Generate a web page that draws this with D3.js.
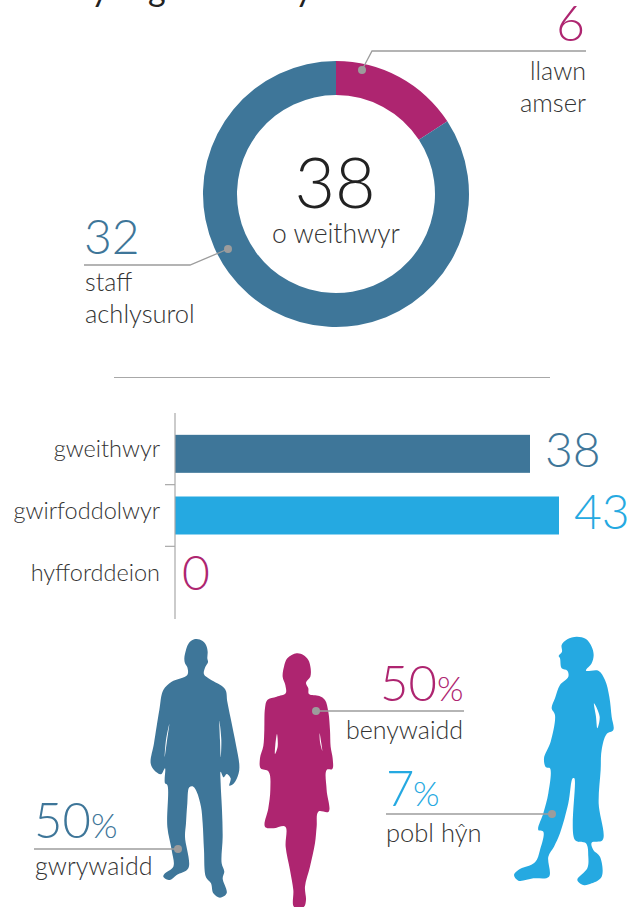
<!DOCTYPE html>
<html>
<head>
<meta charset="utf-8">
<script src="https://cdn.jsdelivr.net/npm/d3@7"></script>
<style>
html, body { margin: 0; padding: 0; background: #fff; }
svg { display: block; }
text { font-family: Lato, "Open Sans", sans-serif; font-weight: 300; }
</style>
</head>
<body>
<svg id="chart" width="629" height="907"></svg>
<script>
// staff split (donut)
var staffLabels = ["llawn amser", "staff achlysurol"];
var staffValues = [6, 32];
var staffTotal = 38;

// bar chart
var barCategories = ["gweithwyr", "gwirfoddolwyr", "hyfforddeion"];
var barValues = [38, 43, 0];

// people percentages
var peopleLabels = ["gwrywaidd", "benywaidd", "pobl hŷn"];
var peopleValues = [50, 50, 7];

var blue = "#3e7699", pink = "#ae2570", sky = "#25a9e1";
var grey = "#9c9c9c", dark = "#333333";

var svg = d3.select("#chart");

function label(x, y, str, size, color, anchor){
    return svg.append("text")
	.attr("x", x).attr("y", y)
	.attr("font-size", size)
	.attr("fill", color)
	.attr("text-anchor", anchor || "start")
	.text(str);
}

function leader(points, r){
    svg.append("path")
	.attr("d", d3.line()(points))
	.attr("fill", "none")
	.attr("stroke", grey)
	.attr("stroke-width", 1.3);
    var end = points[points.length - 1];
    svg.append("circle")
	.attr("cx", end[0]).attr("cy", end[1])
	.attr("r", r || 4)
	.attr("fill", grey);
}

// tails of the cut off heading
[["y", 91], ["g", 148], ["y", 295]].forEach(function(d){
    label(d[1], 1, d[0], 34, "#222222").style("font-weight", 400);
});

// donut
var pie = d3.pie().sort(null).value(function(d){ return d; });
var arc = d3.arc().innerRadius(99).outerRadius(133);
var donut = svg.append("g").attr("transform", "translate(336,194)");

donut.selectAll("path")
    .data(pie(staffValues))
    .enter().append("path")
    .attr("d", arc)
    .attr("fill", function(d, i){ return i == 0 ? pink : blue; });

label(335, 208, staffTotal, 70, "#222222", "middle");
label(336, 243, "o weithwyr", 26.5, dark, "middle");

label(585, 41, staffValues[0], 50, pink, "end");
label(586, 80, "llawn", 25, dark, "end");
label(586, 112, "amser", 25.5, dark, "end");
leader([[586, 51], [372, 51], [362, 70]]);

label(84, 254, staffValues[1], 48, blue);
label(85, 291, "staff", 25, dark);
label(85, 323, "achlysurol", 25.5, dark);
leader([[84, 265], [190, 265], [228, 249]]);

// divider
svg.append("line")
    .attr("x1", 114).attr("x2", 550)
    .attr("y1", 377.5).attr("y2", 377.5)
    .attr("stroke", "#a8a8a8").attr("stroke-width", 1.2);

// bars - the bars in the picture are not to one ratio, so the scale has a knee at 38
var barX = d3.scaleLinear().domain([0, 38, 43]).range([175, 530, 559]);
var barY = d3.scaleBand().domain(barCategories).range([423, 608]);
var barColors = [blue, sky, pink];

var yAxis = d3.axisLeft(barY).tickSize(0).tickPadding(15);
var axisG = svg.append("g").attr("transform", "translate(175,0)").call(yAxis);
axisG.select(".domain").remove();
axisG.selectAll("text")
    .attr("font-size", 23.5)
    .attr("dy", "0.15em")
    .attr("fill", dark)
    .style("font-family", "Lato, sans-serif");

svg.selectAll("rect.bar")
    .data(barValues)
    .enter().append("rect")
    .attr("class", "bar")
    .attr("x", barX(0))
    .attr("y", function(d, i){ return barY(barCategories[i]) + barY.step() / 2 - 19; })
    .attr("width", function(d){ return barX(d) - barX(0); })
    .attr("height", 38)
    .attr("fill", function(d, i){ return barColors[i]; });

svg.selectAll("text.barval")
    .data(barValues)
    .enter().append("text")
    .attr("class", "barval")
    .attr("x", function(d){ return barX(d) + (d == 0 ? 7 : 15); })
    .attr("y", function(d, i){ return barY(barCategories[i]) + barY.step() / 2 + 13; })
    .attr("font-size", 48)
    .attr("fill", function(d, i){ return barColors[i]; })
    .text(function(d){ return d; });

svg.append("line")
    .attr("x1", 175).attr("x2", 175)
    .attr("y1", 413).attr("y2", 619)
    .attr("stroke", "#a8a8a8").attr("stroke-width", 1.2);

svg.selectAll("line.sep")
    .data(barCategories.slice(1))
    .enter().append("line")
    .attr("class", "sep")
    .attr("x1", 165).attr("x2", 175)
    .attr("y1", function(d){ return barY(d); })
    .attr("y2", function(d){ return barY(d); })
    .attr("stroke", "#a8a8a8").attr("stroke-width", 1.2);

// silhouettes
var manOutline = [[200,27],[218,33],[229,47],[233,65],[232,85],[234,97],[225,113],[222,133],[240,148],[285,177],[292,215],[302,265],[318,345],[328,405],[326,430],[312,460],[298,467],[302,445],[290,432],[281,442],[272,425],[272,460],[276,540],[278,620],[275,700],[283,725],[278,745],[290,790],[270,803],[250,790],[243,760],[228,742],[222,660],[218,580],[213,530],[200,485],[190,470],[178,472],[172,520],[168,580],[165,620],[175,715],[140,735],[120,750],[100,740],[105,730],[130,710],[125,660],[112,590],[112,465],[105,460],[105,415],[93,433],[72,420],[62,400],[72,340],[88,240],[100,180],[125,155],[172,135],[172,112],[165,100],[163,85],[168,60],[175,42],[186,31]];
var manHoles = [[[118,282],[108,330],[104,382],[110,340]], [[268,272],[270,330],[272,382],[274,330]]];

var womanOutline = [[500,70],[520,75],[535,90],[542,115],[541,140],[528,158],[535,175],[537,192],[568,198],[585,210],[595,245],[600,300],[602,350],[608,385],[607,417],[590,420],[590,480],[596,545],[565,545],[560,590],[555,640],[540,710],[525,770],[528,810],[522,830],[492,830],[490,780],[480,720],[467,650],[466,590],[430,595],[405,590],[415,535],[421,480],[416,425],[392,415],[390,385],[400,348],[403,300],[405,235],[412,210],[440,200],[467,190],[466,165],[458,140],[462,110],[472,85]];
var womanHoles = [[[441,312],[436,345],[435,372],[443,350]], [[569,310],[574,340],[577,362],[570,335]]];

var olderOutline = [[290,20],[318,27],[335,50],[341,75],[335,100],[318,122],[355,122],[375,150],[388,200],[395,260],[400,300],[380,312],[365,360],[362,420],[356,520],[368,630],[335,638],[340,660],[360,680],[365,740],[335,760],[310,765],[292,750],[322,715],[325,680],[318,640],[285,630],[283,445],[278,445],[265,520],[240,610],[222,650],[205,680],[207,740],[160,745],[115,752],[102,735],[115,720],[165,697],[180,660],[190,605],[175,600],[190,550],[205,490],[210,415],[198,412],[192,385],[212,335],[225,255],[215,235],[225,205],[240,165],[265,140],[262,122],[245,115],[240,85],[236,78],[246,65],[245,45],[262,28]];
var olderHoles = [[[342,220],[348,260],[352,295],[359,260]]];

var figureLine = d3.line().curve(d3.curveCatmullRomClosed.alpha(0.5));

var figures = [
    {outline: manOutline, holes: manHoles, c: blue, x: 130, y: 630},
    {outline: womanOutline, holes: womanHoles, c: pink, x: 130, y: 630},
    {outline: olderOutline, holes: olderHoles, c: sky, x: 480, y: 630}
];
figures.forEach(function(f){
    svg.append("path")
	.attr("d", figureLine(f.outline) + f.holes.map(figureLine).join(""))
	.attr("fill", f.c)
	.attr("fill-rule", "evenodd")
	.attr("transform", "translate(" + f.x + "," + f.y + ") scale(0.3333)");
});

// people labels
label(34, 838, peopleValues[0], 49, blue);
label(91, 838, "%", 34, blue);
label(35, 875, peopleLabels[0], 25, dark);
leader([[34, 849], [178, 849]]);

label(380, 701, peopleValues[1], 49, pink);
label(437, 701, "%", 34, pink);
label(346, 739, peopleLabels[1], 25, dark);
leader([[464, 711], [316, 711]]);

label(386, 806, peopleValues[2], 49, sky);
label(413, 806, "%", 34, sky);
label(386, 842, peopleLabels[2], 25.5, dark);
leader([[386, 814], [552, 814]]);
</script>
</body>
</html>
